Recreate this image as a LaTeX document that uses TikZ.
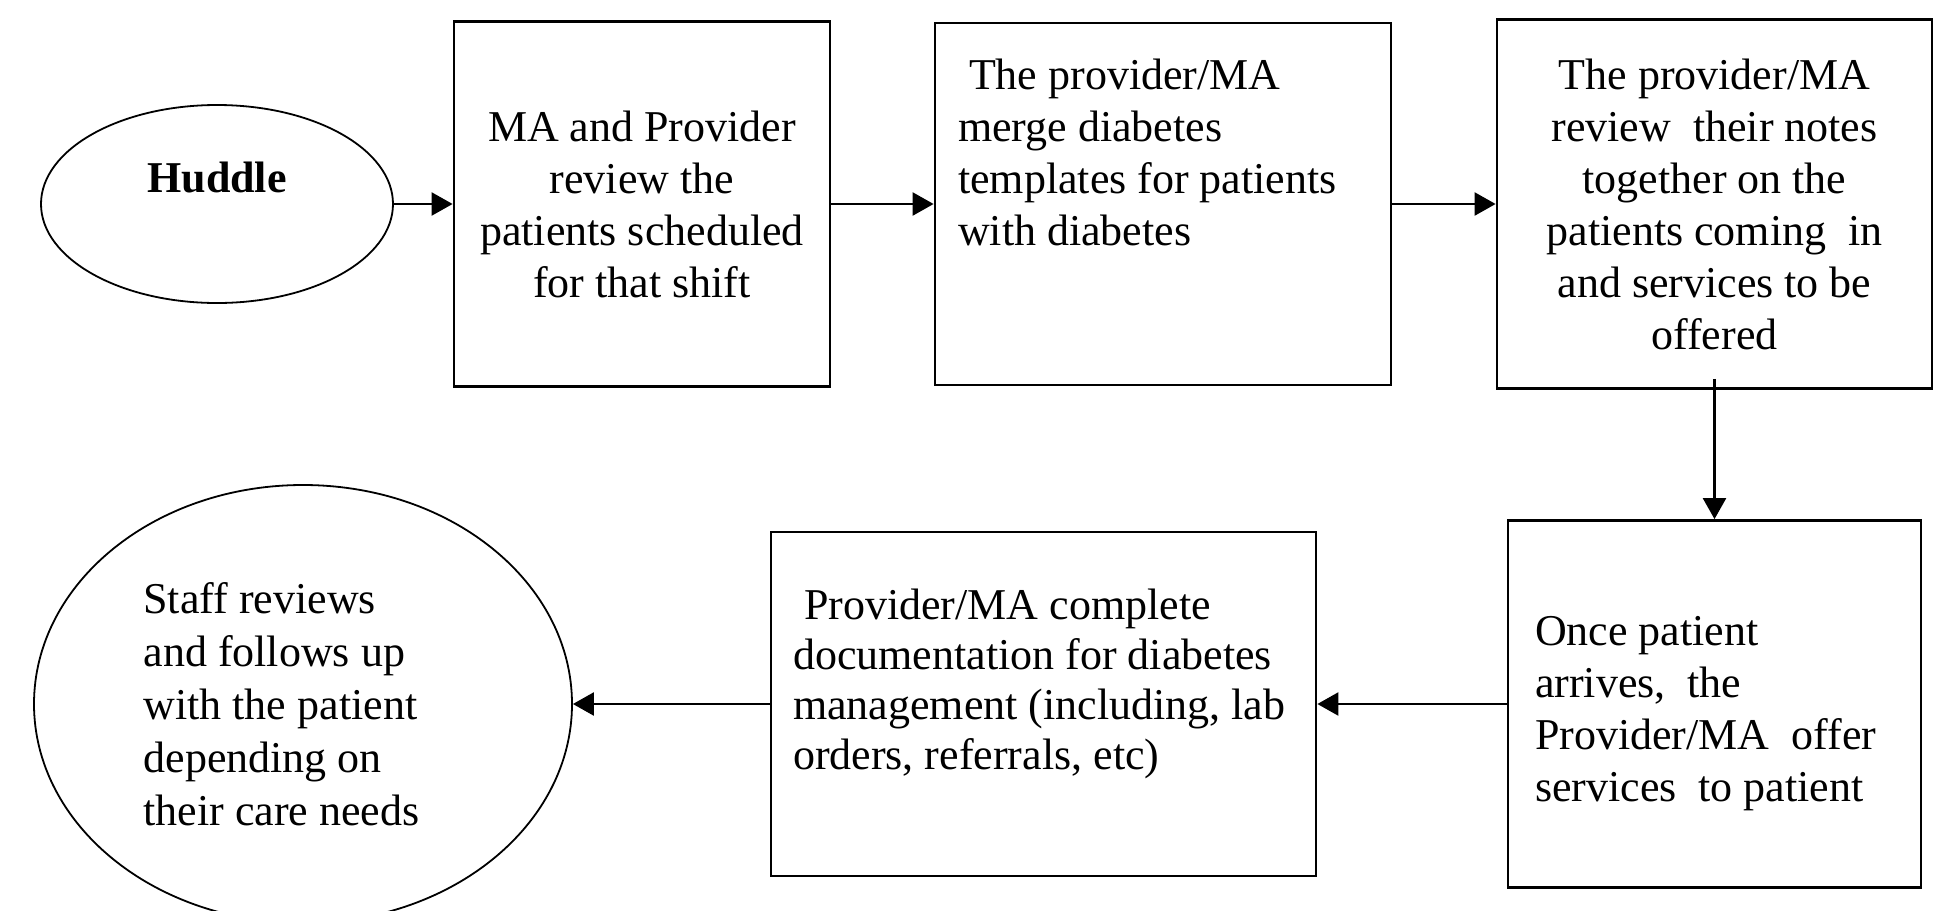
\documentclass[tikz,border=0pt]{standalone}
\usepackage{fontspec}
\setmainfont{Liberation Serif}
\usetikzlibrary{shapes, arrows.meta, positioning}

\begin{document}
\begin{tikzpicture}[node distance=250pt, auto,
    stepbox/.style={draw, rectangle, line width=1.4pt, inner sep=0pt, font=\fontsize{22}{26}\selectfont},
    endcircle/.style={draw, ellipse, line width=0.9pt, inner sep=0pt, font=\fontsize{22}{26.5}\selectfont},
    flow/.style={-{Triangle[length=10.5pt, width=11.5pt]}, line width=1.2pt}]

        \useasboundingbox (0,0) rectangle (975.5pt,-455.5pt);

        % top row
        \node (huddle) [endcircle, minimum width=176pt, minimum height=99pt, align=center] at (108.5pt,-102pt) {\textbf{Huddle}\\ \mbox{}};
        \node (review) [stepbox, minimum width=188pt, minimum height=182.5pt, align=center, right of=huddle, node distance=212.5pt] {MA and Provider\\ review the\\ patients scheduled\\ for that shift};
        \node (merge) [stepbox, minimum height=181pt, inner xsep=11.5pt, text width=205pt, align=flush left, right of=review, node distance=260.5pt] {\hspace*{.25em}The provider/MA\\ merge diabetes\\ templates for patients\\ with diabetes\\ \mbox{}\\ \mbox{}};
        \node (notes) [stepbox, minimum width=217.5pt, minimum height=184.5pt, align=center, right of=merge, node distance=275.75pt] {The provider/MA\\ review\ \ their notes\\ together on the\\ patients coming\ \ in\\ and services to be\\ offered};

        % bottom row
        \node (arrive) [stepbox, minimum height=183.5pt, inner xsep=13.5pt, text width=179.5pt, align=flush left, below of=notes] {\mbox{}\\[-2pt] Once patient\\ arrives,\ \ the\\ Provider/MA\ \ offer\\ services\ \ to patient};
        \node (document) [stepbox, minimum height=172pt, inner xsep=11pt, text width=250.5pt, align=flush left, font=\fontsize{22}{25}\selectfont, left of=arrive, node distance=335.5pt] {\hspace*{.25em}Provider/MA complete\\ documentation for diabetes\\ management (including, lab\\ orders, referrals, etc)\\ \mbox{}};
        \node (followup) [endcircle, minimum width=269pt, minimum height=219pt, text width=159.5pt, align=flush left, left of=document, node distance=370.25pt] {Staff reviews\\ and follows up\\ with the patient\\ depending on\\ their care needs};

        \draw[flow] (huddle) -- (review);
        \draw[flow] (review) -- (merge);
        \draw[flow] (merge) -- (notes);
        \draw[flow] ([yshift=5.5pt]notes.south) -- (arrive);
        \draw[flow] (arrive) -- (document);
        \draw[flow] (document) -- (followup);
    \end{tikzpicture}
\end{document}
